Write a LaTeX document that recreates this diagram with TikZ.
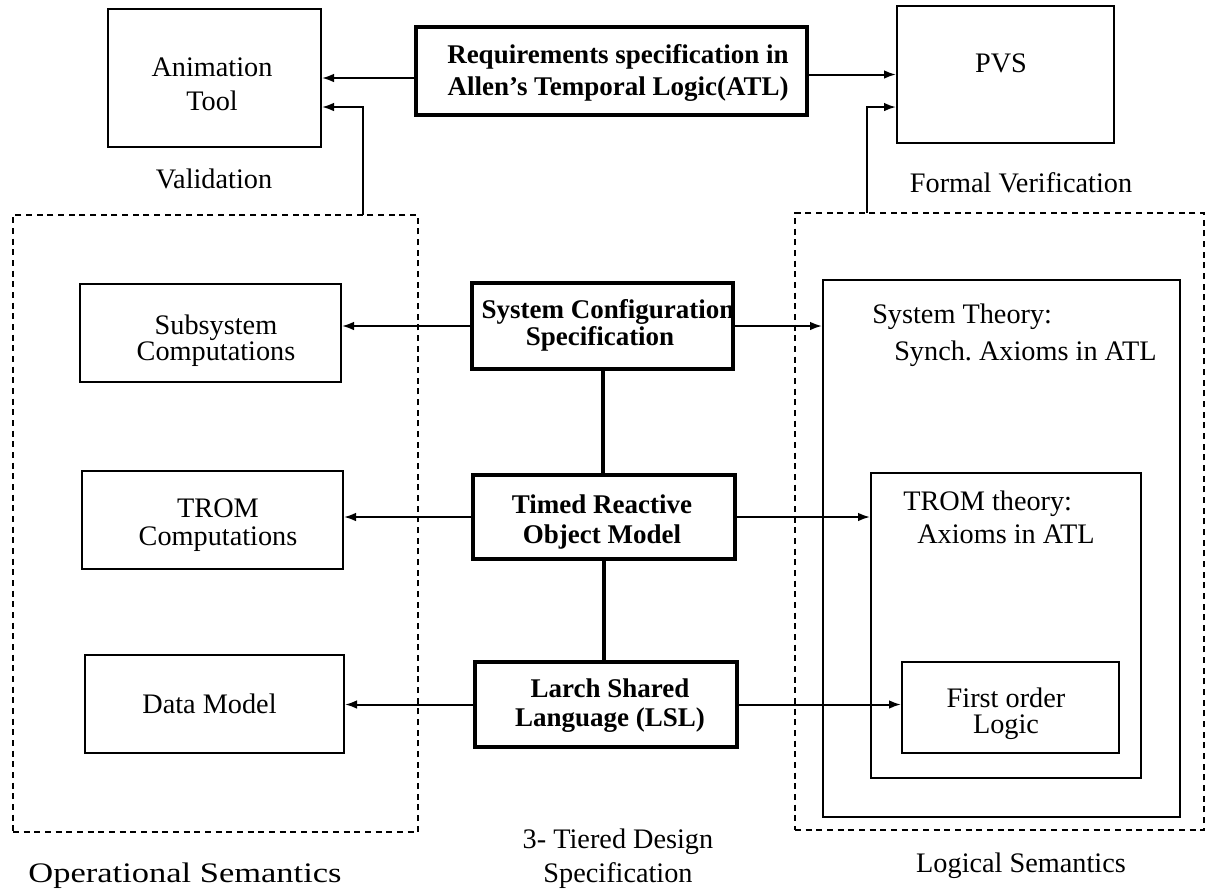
\documentclass[tikz,border=0pt]{standalone}
\usepackage{fontspec}
\setmainfont{Liberation Serif}
\usepackage{graphicx}
\usetikzlibrary{arrows.meta,fit}
\begin{document}
\begin{tikzpicture}[x=0.75pt,y=-0.75pt,
  box/.style={draw,line width=1.5pt,inner sep=0pt},
  thickbox/.style={draw,line width=3.4pt,inner sep=0pt},
  dbox/.style={draw,line width=1.2pt,dash pattern=on 4.5pt off 3.5pt,inner sep=0pt},
  arr/.style={line width=1.5pt,-{Latex[length=9pt,width=6.5pt]}},
  link/.style={line width=3pt},
  txt/.style={font=\fontsize{21.2}{#1}\selectfont,align=center,inner sep=0pt},
  txt/.default=25.5,
  btxt/.style={font=\bfseries\fontsize{20.25}{#1}\selectfont,align=center,inner sep=0pt},
  btxt/.default=24,
]
\path[use as bounding box,fill=white] (0,0) rectangle (1206,890);

% semantic regions
\node[dbox,fit={(13,215) (418,832)}] (opsem) {};
\node[dbox,fit={(795,213) (1204,830)}] (logsem) {};

% top row
\node[box,fit={(108,9) (321,147)}] (anim) {};
\node[thickbox,fit={(416,27) (807,115)}] (req) {};
\node[box,fit={(897,6) (1114,143)}] (pvs) {};

% operational side
\node[box,fit={(80,284) (341,382)}] (sub) {};
\node[box,fit={(82,471) (343,569)}] (tromc) {};
\node[box,fit={(85,655) (344,753)}] (data) {};

% three tiers
\node[thickbox,fit={(472,283) (733,369)}] (syscfg) {};
\node[thickbox,fit={(473,475) (735,559)}] (timed) {};
\node[thickbox,fit={(475,662) (737,747)}] (lsl) {};

% nested theories
\node[box,fit={(823,280) (1180,817)}] (systh) {};
\node[box,fit={(871,473) (1141,778)}] (tromth) {};
\node[box,fit={(902,662) (1119,753)}] (fol) {};

% texts
\node[txt] (tanim) at (212,84.4) {Animation\\Tool};
\node[btxt=24] (treq) at (618,72.5) {Requirements specification in\\Allen's Temporal Logic(ATL)};
\node[txt,anchor=base] (tpvs) at (1001,72) {PVS};
\node[txt,anchor=base] (tval) at (214,188) {Validation};
\node[txt,anchor=base] (tver) at (1021,192) {Formal Verification};
\node[txt=18] (tsub) at (216,340.4) {Subsystem\\Computations};
\node[txt=21] (ttromc) at (218,524.7) {TROM\\Computations};
\node[txt,anchor=base] (tdata) at (209.5,713) {Data Model};
\node[txt,anchor=base] (topsem) at (185,882) {\scalebox{1.22}[1]{Operational Semantics}};
\node[btxt=20.25] (tsyscfg) at (600,325) {\hspace*{12pt}System Configuration\\Specification};
\node[btxt=22.5] (ttimed) at (602,521.5) {Timed Reactive\\Object Model};
\node[btxt=21.75] (tlsl) at (610,706) {Larch Shared\\Language (LSL)};
\node[txt,anchor=base west] (tsysth1) at (872,323) {System Theory:};
\node[txt,anchor=base west] (tsysth2) at (894,360) {Synch.\ Axioms in ATL};
\node[txt,anchor=base west] (ttromth1) at (903,510) {TROM theory:};
\node[txt,anchor=base west] (ttromth2) at (917,543) {Axioms in ATL};
\node[txt=19.5] (tfol) at (1006,713.4) {First order\\Logic};
\node[txt=25.5] (ttier) at (618,858.5) {3- Tiered Design\\Specification};
\node[txt,anchor=base] (tlogsem) at (1021,872) {Logical Semantics};

% connectors
\coordinate (vl) at (363,215);
\coordinate (vr) at (867,213);
\draw[arr] (req.west |- anim.east) -- (anim.east);
\draw[arr] (req.east |- pvs.west) -- (pvs.west);
\draw[arr] (vl) |- ([yshift=-21.75pt]anim.east);
\draw[arr] (vr) |- ([yshift=-24.4pt]pvs.west);
\draw[arr] (syscfg.west) -- (syscfg.west -| sub.east);
\draw[arr] (syscfg.east) -- (syscfg.east -| systh.west);
\draw[arr] (timed.west) -- (timed.west -| tromc.east);
\draw[arr] (timed.east) -- (timed.east -| tromth.west);
\draw[arr] (lsl.west) -- (lsl.west -| data.east);
\draw[arr] (lsl.east) -- (lsl.east -| fol.west);
\draw[link] (syscfg.south) -- (syscfg.south |- timed.north);
\draw[link] (timed.south) -- (timed.south |- lsl.north);
\end{tikzpicture}
\end{document}
